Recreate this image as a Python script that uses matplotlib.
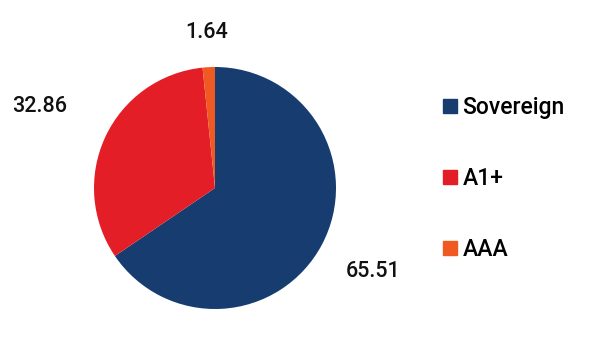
import numpy as np
import matplotlib
import matplotlib.pyplot as plt
from matplotlib.lines import Line2D

plt.rcParams['font.family'] = ['Roboto', 'DejaVu Sans']

categories = ['Sovereign', 'A1+', 'AAA']
values = [65.51, 32.86, 1.64]
colors = ['#173D70', '#E31E26', '#F05A22']
label_dist = [1.48, 1.60, 1.29]

fig = plt.figure(figsize=(5.97, 3.40), dpi=100)
ax = fig.add_axes([0, 0, 1, 1])

cx, cy, r = 215, 152, 121
wedges, _ = ax.pie(values, colors=colors, startangle=90, counterclock=False,
                   center=(cx, cy), radius=r, frame=True)
ax.set_xlim(0, 597)
ax.set_ylim(0, 340)
ax.set_aspect('equal')
ax.axis('off')

for w, v, d in zip(wedges, values, label_dist):
    ang = np.deg2rad((w.theta1 + w.theta2) / 2)
    ax.text(cx + d * r * np.cos(ang), cy + d * r * np.sin(ang), f'{v:.2f}',
            ha='center', va='center', fontsize=15.5, fontweight='medium',
            color='#111111')

handles = [Line2D([], [], marker='s', linestyle='', markersize=10,
                  markerfacecolor=c, markeredgecolor=c) for c in colors]
fig.legend(handles, categories, loc='center left', bbox_to_anchor=(0.70, 0.475),
           frameon=False, prop={'weight': 'medium', 'size': 16.5},
           labelspacing=2.1, handletextpad=0.05, handlelength=1.0)

fig.savefig('out.png', dpi=100)
